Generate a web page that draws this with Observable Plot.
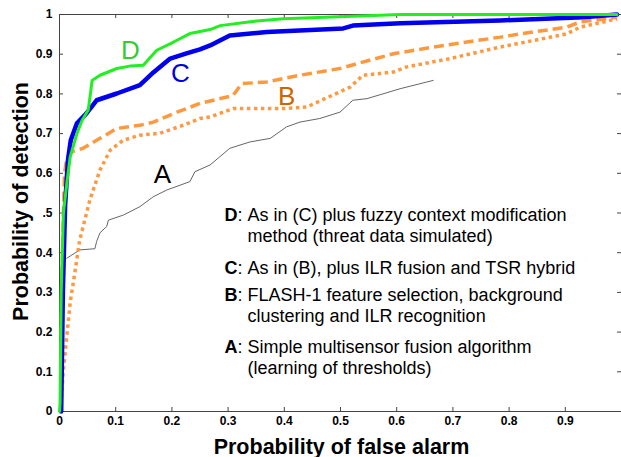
<!DOCTYPE html>
<html>
<head>
<meta charset="utf-8">
<script src="https://cdn.jsdelivr.net/npm/d3@7"></script>
<script src="https://cdn.jsdelivr.net/npm/@observablehq/plot@0.6"></script>
<style>
  html, body { margin: 0; padding: 0; background: #fff; }
  #chart svg { display: block; }
</style>
</head>
<body>
<div id="chart"></div>
<script>
// ROC curves: [probability of false alarm, probability of detection]
const curveD = [[0,0],[0.001,0.02],[0.003,0.3],[0.007,0.5],[0.013,0.575],[0.019,0.641],[0.031,0.70],[0.04,0.733],[0.051,0.759],[0.055,0.80],[0.058,0.834],[0.072,0.847],[0.102,0.864],[0.125,0.87],[0.149,0.872],[0.173,0.91],[0.202,0.930],[0.232,0.952],[0.268,0.962],[0.286,0.972],[0.34,0.982],[0.398,0.989],[0.547,0.997],[0.606,1.0],[0.992,1.0]];
const curveC = [[0.003,0],[0.006,0.3],[0.01,0.52],[0.015,0.633],[0.02,0.683],[0.031,0.726],[0.048,0.751],[0.066,0.784],[0.102,0.801],[0.143,0.822],[0.167,0.854],[0.197,0.889],[0.226,0.902],[0.25,0.912],[0.268,0.922],[0.303,0.947],[0.369,0.956],[0.505,0.965],[0.522,0.972],[0.606,0.978],[0.784,0.985],[0.932,0.993],[0.992,1.0]];
const curveBDashed = [[0.002,0],[0.004,0.3],[0.007,0.5],[0.009,0.6],[0.013,0.64],[0.022,0.654],[0.042,0.663],[0.072,0.688],[0.102,0.713],[0.143,0.721],[0.167,0.729],[0.209,0.754],[0.25,0.776],[0.309,0.796],[0.324,0.826],[0.369,0.830],[0.428,0.847],[0.499,0.864],[0.529,0.876],[0.594,0.901],[0.665,0.918],[0.784,0.943],[0.843,0.956],[0.902,0.968],[0.926,0.981],[0.992,0.993]];
const curveBDotted = [[0.002,0],[0.004,0.048],[0.007,0.105],[0.013,0.19],[0.019,0.274],[0.028,0.357],[0.036,0.432],[0.045,0.482],[0.054,0.533],[0.072,0.608],[0.09,0.658],[0.113,0.683],[0.143,0.696],[0.179,0.701],[0.22,0.721],[0.25,0.738],[0.268,0.742],[0.309,0.763],[0.398,0.763],[0.44,0.767],[0.517,0.817],[0.54,0.847],[0.594,0.855],[0.618,0.868],[0.695,0.889],[0.784,0.918],[0.902,0.951],[0.926,0.968],[0.992,0.989]];
const curveA = [[0.013,0.386],[0.036,0.407],[0.063,0.41],[0.066,0.428],[0.072,0.45],[0.084,0.466],[0.087,0.482],[0.114,0.495],[0.143,0.516],[0.167,0.541],[0.191,0.558],[0.232,0.579],[0.241,0.604],[0.268,0.621],[0.303,0.663],[0.339,0.679],[0.375,0.688],[0.404,0.717],[0.428,0.729],[0.463,0.738],[0.499,0.754],[0.522,0.784],[0.547,0.788],[0.606,0.813],[0.665,0.834]];

const curveLabels = [
  {t: "D", fa: 0.126, pd: 0.908, color: "#33cc33"},
  {t: "C", fa: 0.215, pd: 0.850, color: "#0000dd"},
  {t: "B", fa: 0.404, pd: 0.792, color: "#cc6600"},
  {t: "A", fa: 0.183, pd: 0.597, color: "#000000"}
];

const xTicks = [0, 0.1, 0.2, 0.3, 0.4, 0.5, 0.6, 0.7, 0.8, 0.9];
const xTickLabels = ["0", "0.1", "0.2", "0.3", "0.4", "0.5", "0.6", "0.7", "0.8", "0.9"];
const yTicks = [0, 0.1, 0.2, 0.3, 0.4, 0.5, 0.6, 0.7, 0.8, 0.9, 1];
const yTickLabels = ["0", "0.1", "0.2", "0.3", "0.4", ".5", "0.6", "0.7", "0.8", "0.9", "1"];

const legendLetters = ["D", "C", "B", "A"];
const legendTexts = [
  "As in (C) plus fuzzy context modification\nmethod (threat data simulated)",
  "As in (B), plus ILR fusion and TSR hybrid",
  "FLASH-1 feature selection, background\nclustering and ILR recognition",
  "Simple multisensor fusion algorithm\n(learning of thresholds)"
];
const legendTop = [190.7, 243.7, 270.7, 322.7];

const xTitle = "Probability of false alarm";
const yTitle = "Probability of detection";

const fmt = (ticks, labels) => (d) => labels[ticks.indexOf(d)];
const FS = 18, LH = 1.2;

const legendMarks = legendLetters.flatMap((L, i) => {
  const common = {frameAnchor: "top-left", dy: legendTop[i], text: d => d, textAnchor: "start",
    lineAnchor: "top", fontSize: FS, lineHeight: LH, fill: "#000"};
  return [
    Plot.text([L], {...common, dx: 165, fontWeight: "bold"}),
    Plot.text([":"], {...common, dx: 178}),
    Plot.text([legendTexts[i]], {...common, dx: 188})
  ];
});

const TICK = 4, FW = 562, FH = 397;
const axisColor = "#444";

const chart = Plot.plot({
  width: 621,
  height: 457,
  marginLeft: 59,
  marginRight: 0,
  marginTop: 14,
  marginBottom: 46,
  x: {domain: [0, 1]},
  y: {domain: [0, 1]},
  style: {fontFamily: "'Liberation Sans', Arial, sans-serif", background: "#fff", color: "#000"},
  marks: [
    // box: left, top, bottom (right edge falls off the picture)
    Plot.ruleX([0], {stroke: axisColor}),
    Plot.ruleY([0, 1], {stroke: axisColor}),
    // inward ticks on all four sides
    Plot.ruleX(xTicks, {x: d => d, insetTop: FH - TICK, stroke: axisColor}),
    Plot.ruleX(xTicks, {x: d => d, insetBottom: FH - TICK, stroke: axisColor}),
    Plot.ruleY(yTicks, {y: d => d, insetRight: FW - TICK, stroke: axisColor}),
    Plot.ruleY(yTicks, {y: d => d, insetLeft: FW - TICK, stroke: axisColor}),
    // tick labels
    Plot.axisX({anchor: "bottom", ticks: xTicks, tickSize: 0, tickPadding: 5, tickFormat: fmt(xTicks, xTickLabels),
      label: null, fontSize: 12, fontWeight: "bold", fill: "#000"}),
    Plot.axisY({anchor: "left", ticks: yTicks, tickSize: 0, tickPadding: 7, tickFormat: fmt(yTicks, yTickLabels),
      label: null, fontSize: 12, fontWeight: "bold", fill: "#000"}),
    // curves
    Plot.line(curveA, {x: d => d[0], y: d => d[1], stroke: "#666", strokeWidth: 1}),
    Plot.line(curveBDotted, {x: d => d[0], y: d => d[1], stroke: "#ff9940", strokeWidth: 3.5,
      strokeDasharray: "3.5,3.5", strokeLinecap: "butt", strokeLinejoin: "miter"}),
    Plot.line(curveBDashed, {x: d => d[0], y: d => d[1], stroke: "#ff9940", strokeWidth: 3.5,
      strokeDasharray: "10,5", strokeLinecap: "butt", strokeLinejoin: "miter"}),
    Plot.line(curveC, {x: d => d[0], y: d => d[1], stroke: "#0000ee", strokeWidth: 4.5}),
    Plot.line(curveD, {x: d => d[0], y: d => d[1], stroke: "#22ee22", strokeWidth: 3}),
    // curve labels
    Plot.text(curveLabels, {x: "fa", y: "pd", text: "t", fill: "color", fontSize: 26, lineAnchor: "middle"}),
    // legend text
    ...legendMarks,
    // axis titles
    Plot.text([xTitle], {frameAnchor: "bottom", dx: 1, dy: 42, text: d => d, lineAnchor: "bottom", textAnchor: "middle",
      fontSize: 21.5, fontWeight: "bold", fill: "#000"}),
    Plot.text([yTitle], {frameAnchor: "left", dx: -32, dy: -11.5, rotate: -90, text: d => d, lineAnchor: "bottom", textAnchor: "middle",
      fontSize: 21.5, fontWeight: "bold", fill: "#000"})
  ]
});

document.getElementById("chart").appendChild(chart);
</script>
</body>
</html>
